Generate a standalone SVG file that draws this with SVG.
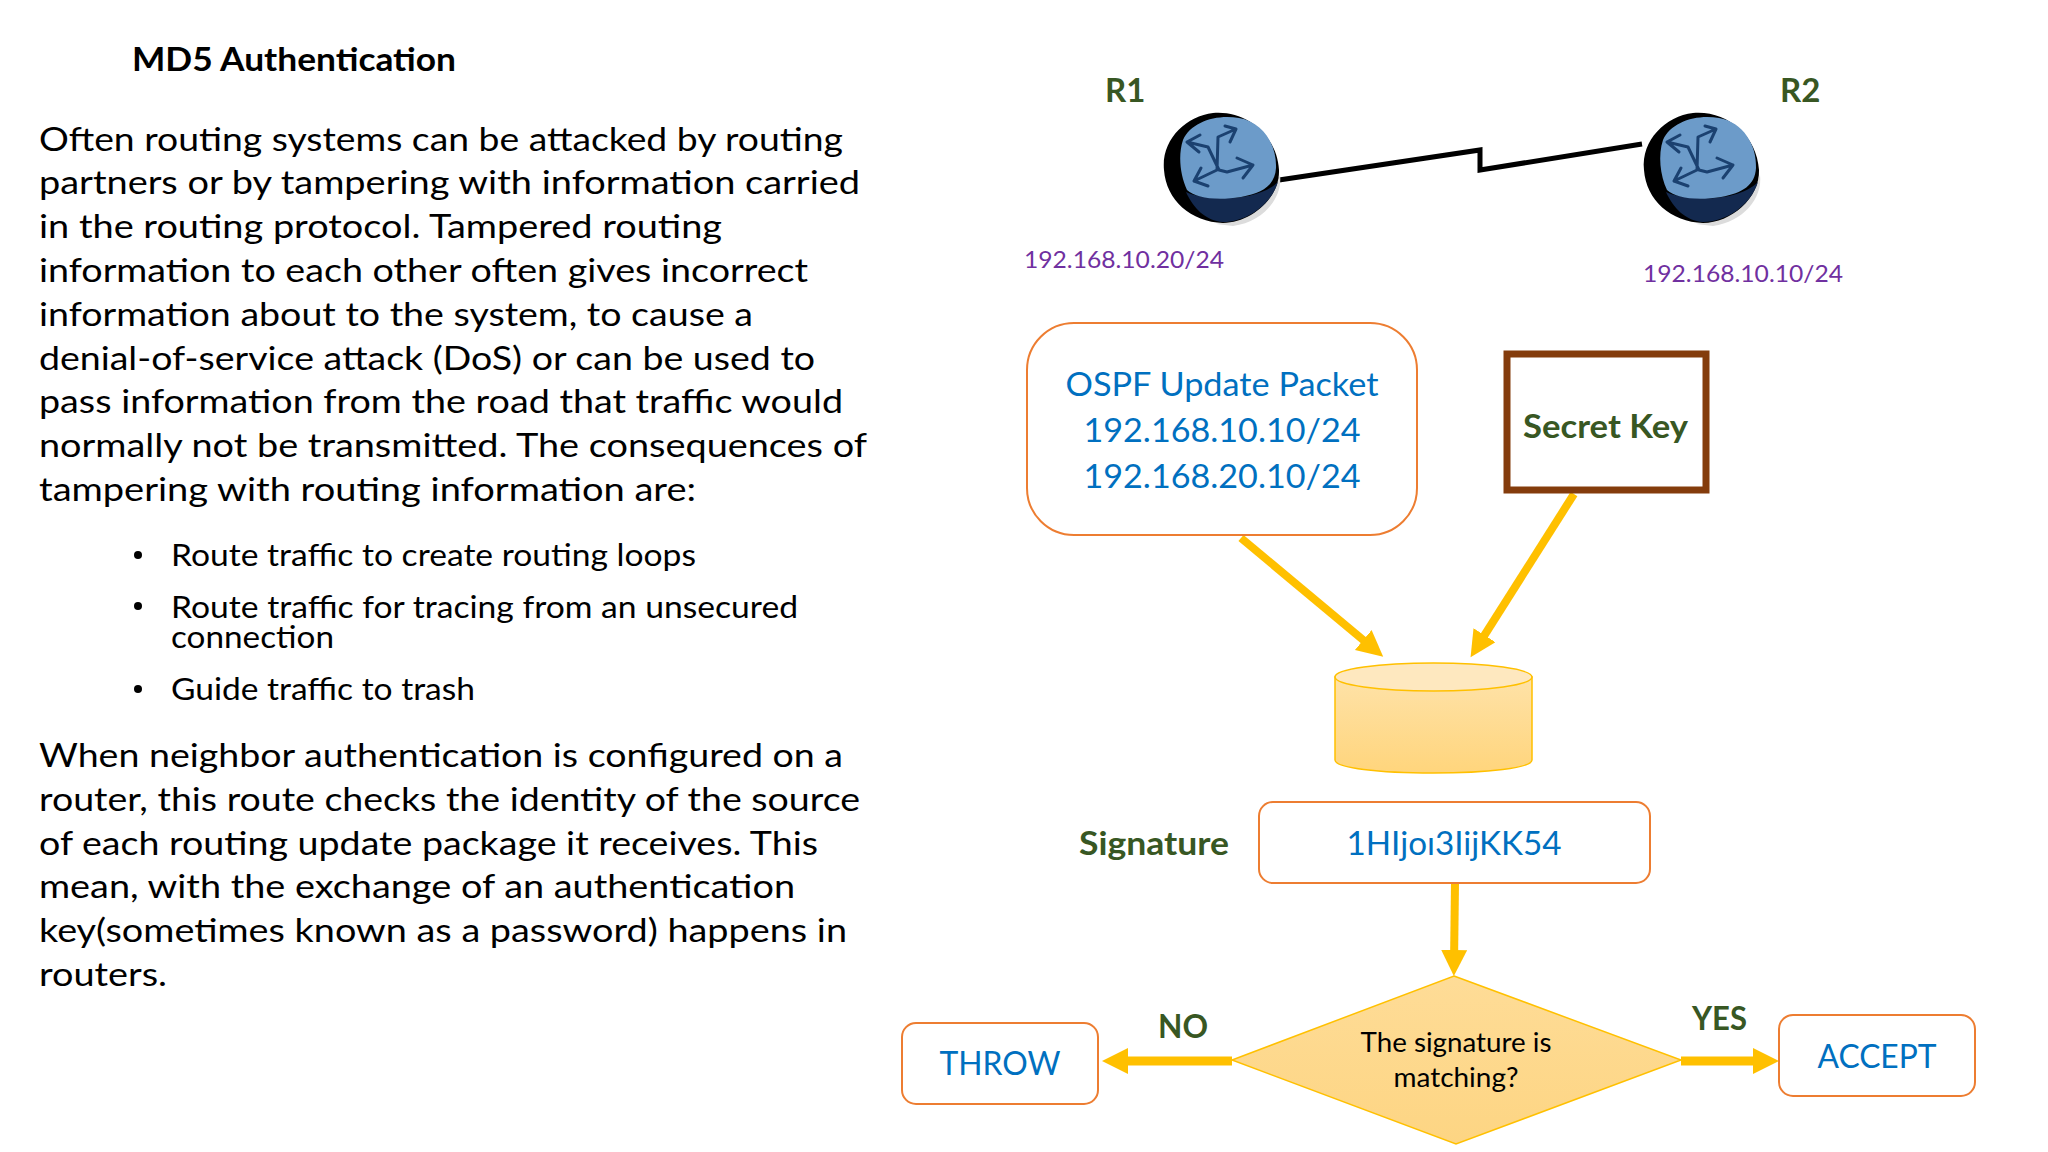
<svg xmlns="http://www.w3.org/2000/svg" xmlns:xlink="http://www.w3.org/1999/xlink" width="2048" height="1152" viewBox="0 0 2048 1152">
<style>
text{font-family:"Lato","Carlito","Open Sans",sans-serif}
.b{font-size:33px;fill:#000}
.s{font-size:30px;fill:#000}
.t{font-size:33px;font-weight:700;fill:#000}
.g{font-size:33px;font-weight:700;fill:#385723}
.ip{font-size:24px;fill:#7030a0}
.bl{font-size:33px;fill:#0070c0;text-anchor:middle}
.q{font-size:27px;fill:#000;text-anchor:middle}
.box{fill:#fff;stroke:#ed7d31;stroke-width:2}
.ar{fill:none;stroke:#ffc000;marker-end:url(#h)}
.ra{fill:none;stroke:#1b4170;stroke-width:3;stroke-linejoin:round;stroke-linecap:round}
</style>
<defs>
<marker id="h" markerUnits="userSpaceOnUse" markerWidth="30" markerHeight="30" refX="14" refY="13" orient="auto"><path d="M0 0L26 13L0 26z" fill="#ffc000"/></marker>
<linearGradient id="cy" x1="0" y1="0" x2="0" y2="1"><stop offset="0" stop-color="#fee2a8"/><stop offset="1" stop-color="#ffd57c"/></linearGradient>
<linearGradient id="di" x1="0" y1="0" x2="0" y2="1"><stop offset="0" stop-color="#fedc97"/><stop offset="1" stop-color="#fdd583"/></linearGradient>
<g id="router">
<path d="M1279 175C1282 198 1262 222 1232 226L1215 224C1250 215 1270 200 1279 175Z" fill="#dcdcdc"/>
<path d="M1163 170C1160 140 1185 116 1212 113C1245 110 1276 135 1278 170C1279 198 1250 223 1222 223C1190 222 1165 200 1163 170Z" fill="#000"/>
<path d="M1185 192C1200 200 1255 204 1277 182C1270 205 1245 222 1222 222C1205 221 1192 208 1185 192Z" fill="#13294f"/>
<path d="M1182 140C1190 122 1215 114 1238 118C1262 122 1276 145 1275 168C1274 185 1262 193 1240 197C1215 201 1195 198 1186 190C1179 175 1177 155 1182 140Z" fill="#6c9bc9"/>
<path class="ra" d="M1186 142L1207 147L1218 170L1226 172L1252 165M1199 135L1186 142L1198 152M1235 129L1217 137L1216 170L1193 181M1224 126L1235 129L1229 142M1236 158L1252 165L1242 178M1200 168L1193 181L1207 186"/>
</g>
</defs>
<rect width="2048" height="1152" fill="#fff"/>
<g id="heading"><text class="t" x="132" y="71" textLength="324" lengthAdjust="spacingAndGlyphs">MD5 Authentication</text></g>
<g id="body-1">
<text class="b" x="39" y="151" textLength="804" lengthAdjust="spacingAndGlyphs">Often routing systems can be attacked by routing</text>
<text class="b" x="39" y="194" textLength="821" lengthAdjust="spacingAndGlyphs">partners or by tampering with information carried</text>
<text class="b" x="39" y="238" textLength="683" lengthAdjust="spacingAndGlyphs">in the routing protocol. Tampered routing</text>
<text class="b" x="39" y="282" textLength="769" lengthAdjust="spacingAndGlyphs">information to each other often gives incorrect</text>
<text class="b" x="39" y="326" textLength="714" lengthAdjust="spacingAndGlyphs">information about to the system, to cause a</text>
<text class="b" x="39" y="370" textLength="776" lengthAdjust="spacingAndGlyphs">denial-of-service attack (DoS) or can be used to</text>
<text class="b" x="39" y="413" textLength="804" lengthAdjust="spacingAndGlyphs">pass information from the road that traffic would</text>
<text class="b" x="39" y="457" textLength="828" lengthAdjust="spacingAndGlyphs">normally not be transmitted. The consequences of</text>
<text class="b" x="39" y="501" textLength="657" lengthAdjust="spacingAndGlyphs">tampering with routing information are:</text>
</g>
<g id="bullets">
<circle cx="138" cy="555" r="4" fill="#000"/><circle cx="138" cy="606" r="4" fill="#000"/><circle cx="138" cy="689" r="4" fill="#000"/>
<text class="s" x="171" y="566" textLength="525" lengthAdjust="spacingAndGlyphs">Route traffic to create routing loops</text>
<text class="s" x="171" y="618" textLength="627" lengthAdjust="spacingAndGlyphs">Route traffic for tracing from an unsecured</text>
<text class="s" x="171" y="648" textLength="163" lengthAdjust="spacingAndGlyphs">connection</text>
<text class="s" x="171" y="700" textLength="304" lengthAdjust="spacingAndGlyphs">Guide traffic to trash</text>
</g>
<g id="body-2">
<text class="b" x="39" y="767" textLength="804" lengthAdjust="spacingAndGlyphs">When neighbor authentication is configured on a</text>
<text class="b" x="39" y="811" textLength="821" lengthAdjust="spacingAndGlyphs">router, this route checks the identity of the source</text>
<text class="b" x="39" y="855" textLength="779" lengthAdjust="spacingAndGlyphs">of each routing update package it receives. This</text>
<text class="b" x="39" y="898" textLength="756" lengthAdjust="spacingAndGlyphs">mean, with the exchange of an authentication</text>
<text class="b" x="39" y="942" textLength="808" lengthAdjust="spacingAndGlyphs">key(sometimes known as a password) happens in</text>
<text class="b" x="39" y="986" textLength="128" lengthAdjust="spacingAndGlyphs">routers.</text>
</g>
<g id="connectors">
<path d="M1279 180L1480 150V170L1642 144" fill="none" stroke="#000" stroke-width="5"/>
<path class="ar" stroke-width="8" d="M1241 538L1374 649"/>
<path class="ar" stroke-width="8" d="M1574 494L1477 647"/>
<path class="ar" stroke-width="8" d="M1455 883L1454 964"/>
<path class="ar" stroke-width="9" d="M1232 1061L1114 1061"/>
<path class="ar" stroke-width="9" d="M1681 1061L1767 1061"/>
</g>
<g id="r1"><use href="#router" xlink:href="#router" x="1"/><text class="g" x="1105" y="102">R1</text><text class="ip" x="1024" y="268" textLength="200" lengthAdjust="spacingAndGlyphs">192.168.10.20/24</text></g>
<g id="r2"><use href="#router" xlink:href="#router" x="481"/><text class="g" x="1780" y="102">R2</text><text class="ip" x="1643" y="282" textLength="200" lengthAdjust="spacingAndGlyphs">192.168.10.10/24</text></g>
<g id="packet"><rect class="box" x="1027" y="323" width="390" height="212" rx="47"/>
<text class="bl" x="1222" y="396" textLength="313" lengthAdjust="spacingAndGlyphs">OSPF Update Packet</text>
<text class="bl" x="1222" y="442" textLength="277" lengthAdjust="spacingAndGlyphs">192.168.10.10/24</text>
<text class="bl" x="1222" y="488" textLength="277" lengthAdjust="spacingAndGlyphs">192.168.20.10/24</text></g>
<g id="secret"><rect x="1507" y="354" width="199" height="136" fill="#fff" stroke="#843c0c" stroke-width="7"/><text class="g" x="1523" y="438" textLength="165" lengthAdjust="spacingAndGlyphs">Secret Key</text></g>
<g id="hash"><path d="M1335 677V760C1335 768 1379 773 1433 773S1532 768 1532 760V677Z" fill="url(#cy)" stroke="#ffc000" stroke-width="1.5"/><ellipse cx="1433.500" cy="677" rx="98.500" ry="14" fill="#fee8bf" stroke="#ffc000" stroke-width="1.5"/></g>
<g id="signature"><text class="g" x="1079" y="855" textLength="150" lengthAdjust="spacingAndGlyphs">Signature</text><rect class="box" x="1259" y="802" width="391" height="81" rx="14"/><text class="bl" x="1454" y="855" textLength="215" lengthAdjust="spacingAndGlyphs">1HIjoı3IijKK54</text></g>
<g id="decision"><path d="M1454 976L1681 1060L1456 1144L1232 1060Z" fill="url(#di)" stroke="#ffc000" stroke-width="1.5"/>
<text class="q" x="1456" y="1052" textLength="191" lengthAdjust="spacingAndGlyphs">The signature is</text>
<text class="q" x="1456" y="1087" textLength="125" lengthAdjust="spacingAndGlyphs">matching?</text></g>
<g id="throw"><rect class="box" x="902" y="1023" width="196" height="81" rx="14"/><text class="bl" x="1000" y="1075" textLength="121" lengthAdjust="spacingAndGlyphs">THROW</text></g>
<g id="accept"><rect class="box" x="1779" y="1015" width="196" height="81" rx="14"/><text class="bl" x="1877" y="1068" textLength="119" lengthAdjust="spacingAndGlyphs">ACCEPT</text></g>
<g id="labels"><text class="g" x="1158" y="1038" textLength="50" lengthAdjust="spacingAndGlyphs">NO</text><text class="g" x="1692" y="1030" textLength="55" lengthAdjust="spacingAndGlyphs">YES</text></g>
</svg>
